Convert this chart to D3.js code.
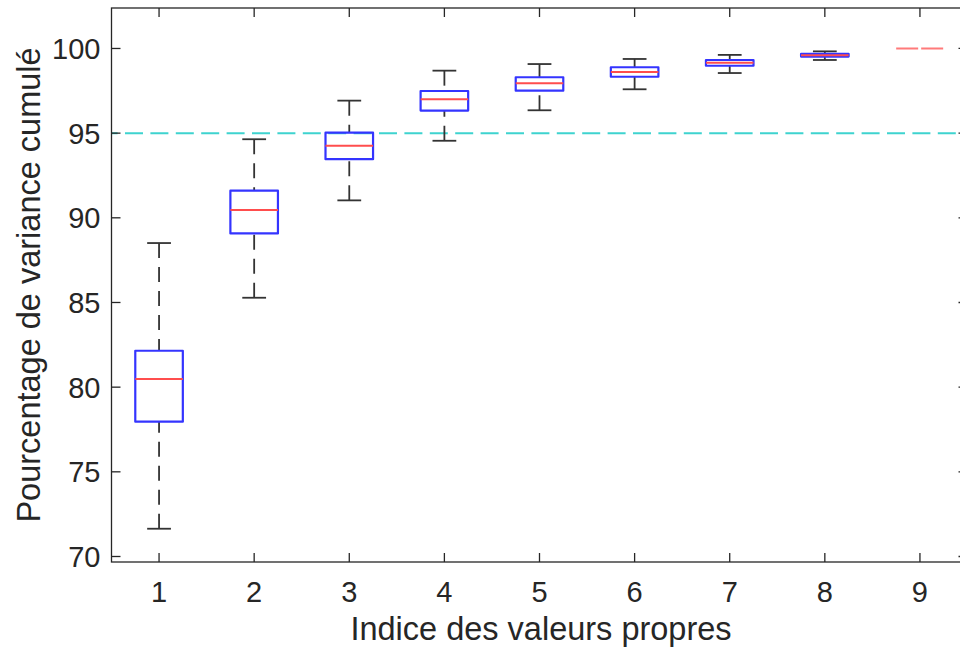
<!DOCTYPE html>
<html>
<head>
<meta charset="utf-8">
<script src="https://cdn.jsdelivr.net/npm/d3@7"></script>
<style>
  html, body { margin: 0; padding: 0; background: #ffffff; }
  svg { display: block; }
  text { font-family: "Liberation Sans", Arial, Helvetica, sans-serif; fill: #262626; }
</style>
</head>
<body>
<svg id="chart" width="960" height="649"></svg>
<script>
// ---- data ----
const categories   = [1, 2, 3, 4, 5, 6, 7, 8, 9];
const upperWhisker = [88.51, 94.64, 96.92, 98.69, 99.08, 99.38, 99.62, 99.83, 100];
const q3Values     = [82.15, 91.60, 95.03, 97.49, 98.30, 98.89, 99.32, 99.68, 100];
const medians      = [80.48, 90.46, 94.26, 97.00, 97.94, 98.61, 99.16, 99.60, 100];
const q1Values     = [77.96, 89.08, 93.46, 96.33, 97.51, 98.33, 98.98, 99.52, 100];
const lowerWhisker = [71.64, 85.28, 91.03, 94.55, 96.35, 97.59, 98.55, 99.32, 100];
const threshold    = 95;
const yTicks       = [70, 75, 80, 85, 90, 95, 100];
const xLabel = "Indice des valeurs propres";
const yLabel = "Pourcentage de variance cumulé";

(function () {
const boxes = categories.map((c, i) => ({
  cat: c, hi: upperWhisker[i], q3: q3Values[i], med: medians[i], q1: q1Values[i], lo: lowerWhisker[i]
}));

// ---- layout ----
const svg = d3.select("#chart");
const pLeft = 111.5, pRight = 967.5, pTop = 8, pBottom = 562;
const x = d3.scaleLinear().domain([0.5, 9.5]).range([pLeft, pRight]);
const y = d3.scaleLinear().domain([69.675, 102.39]).range([pBottom, pTop]);
const axisColor = "#262626";
const tickLen = 9;

// threshold line (behind boxes)
svg.append("line")
  .attr("x1", pLeft).attr("x2", pRight)
  .attr("y1", y(threshold)).attr("y2", y(threshold))
  .attr("stroke", "#3ed3cf").attr("stroke-width", 2)
  .attr("stroke-dasharray", "18,7.4").attr("stroke-dashoffset", 11.9);

const boxHalf = (x(1.25) - x(1));   // box width 0.5
const capHalf = (x(1.125) - x(1));  // cap width 0.25

const g = svg.append("g");
boxes.forEach(b => {
  const cx = x(b.cat);
  const flat = b.q1 === b.q3 && b.lo === b.hi;
  if (!flat) {
    g.append("line").attr("x1", cx).attr("x2", cx)
      .attr("y1", y(b.hi)).attr("y2", y(b.q3))
      .attr("stroke", "#333").attr("stroke-width", 1.8).attr("stroke-dasharray", "15,9");
    g.append("line").attr("x1", cx).attr("x2", cx)
      .attr("y1", y(b.lo)).attr("y2", y(b.q1))
      .attr("stroke", "#333").attr("stroke-width", 1.8).attr("stroke-dasharray", "15,9");
    [b.hi, b.lo].forEach(v => {
      g.append("line").attr("x1", cx - capHalf).attr("x2", cx + capHalf)
        .attr("y1", y(v)).attr("y2", y(v))
        .attr("stroke", "#333").attr("stroke-width", 1.8);
    });
    g.append("rect")
      .attr("x", cx - boxHalf).attr("y", y(b.q3))
      .attr("width", 2 * boxHalf).attr("height", Math.max(0, y(b.q1) - y(b.q3)))
      .attr("fill", "none").attr("stroke", "#3434ff").attr("stroke-width", 2.2)
      .attr("stroke-linejoin", "round");
  }
  g.append("line").attr("x1", cx - boxHalf).attr("x2", cx + boxHalf)
    .attr("y1", y(b.med)).attr("y2", y(b.med))
    .attr("stroke", flat ? "#ff7a7a" : "#ff4d4d").attr("stroke-width", 2)
    .attr("stroke-dasharray", flat ? "22,3" : null);
});

// ---- axes frame ----
const axes = svg.append("g");
axes.append("rect").attr("x", pLeft).attr("y", pTop)
  .attr("width", pRight - pLeft).attr("height", pBottom - pTop)
  .attr("fill", "none").attr("stroke", axisColor).attr("stroke-width", 1.3);

yTicks.forEach(t => {
  const yy = y(t);
  axes.append("line").attr("x1", pLeft).attr("x2", pLeft + tickLen).attr("y1", yy).attr("y2", yy)
    .attr("stroke", axisColor).attr("stroke-width", 1.3);
  axes.append("line").attr("x1", pRight).attr("x2", pRight - tickLen).attr("y1", yy).attr("y2", yy)
    .attr("stroke", axisColor).attr("stroke-width", 1.3);
  axes.append("text").attr("x", pLeft - 11).attr("y", yy).attr("dy", "0.36em")
    .attr("text-anchor", "end").attr("font-size", 29).text(t);
});

categories.forEach(c => {
  const xx = x(c);
  axes.append("line").attr("x1", xx).attr("x2", xx).attr("y1", pBottom).attr("y2", pBottom - tickLen)
    .attr("stroke", axisColor).attr("stroke-width", 1.3);
  axes.append("line").attr("x1", xx).attr("x2", xx).attr("y1", pTop).attr("y2", pTop + tickLen)
    .attr("stroke", axisColor).attr("stroke-width", 1.3);
  axes.append("text").attr("x", xx).attr("y", 602)
    .attr("text-anchor", "middle").attr("font-size", 29).text(c);
});

svg.append("text").attr("x", 541).attr("y", 640)
  .attr("text-anchor", "middle").attr("font-size", 32.5).text(xLabel);
svg.append("text").attr("transform", "translate(40,285) rotate(-90)")
  .attr("text-anchor", "middle").attr("font-size", 32.5).text(yLabel);
})();
</script>
</body>
</html>
